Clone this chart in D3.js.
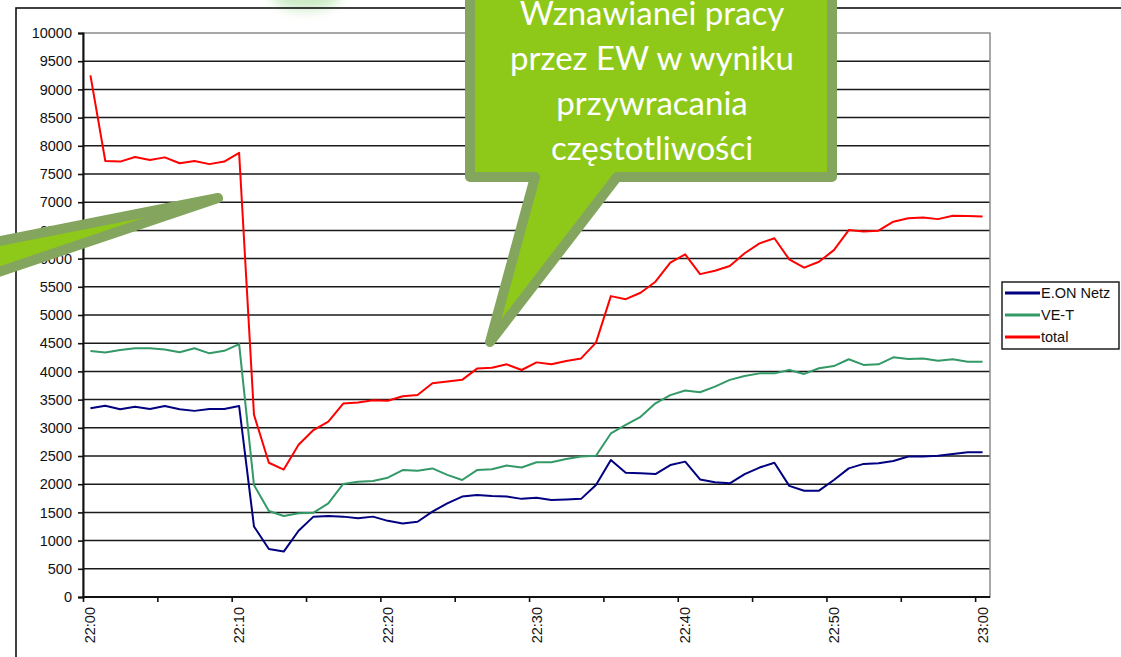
<!DOCTYPE html>
<html>
<head>
<meta charset="utf-8">
<script src="https://cdn.jsdelivr.net/npm/d3@7"></script>
<style>
  html, body { margin: 0; padding: 0; background: #fff; overflow: hidden; }
  svg { display: block; }
</style>
</head>
<body>
<svg id="chart" width="1121" height="657"></svg>
<script>
// One reading per minute, 22:00 – 23:00
const times = [
  "22:00","22:01","22:02","22:03","22:04","22:05","22:06","22:07","22:08","22:09",
  "22:10","22:11","22:12","22:13","22:14","22:15","22:16","22:17","22:18","22:19",
  "22:20","22:21","22:22","22:23","22:24","22:25","22:26","22:27","22:28","22:29",
  "22:30","22:31","22:32","22:33","22:34","22:35","22:36","22:37","22:38","22:39",
  "22:40","22:41","22:42","22:43","22:44","22:45","22:46","22:47","22:48","22:49",
  "22:50","22:51","22:52","22:53","22:54","22:55","22:56","22:57","22:58","22:59",
  "23:00"
];

const eonNetz = [
  3345, 3390, 3330, 3375, 3335, 3385, 3330, 3300, 3335, 3335,
  3385, 1250,  850,  805, 1175, 1425, 1435, 1425, 1395, 1425,
  1350, 1305, 1335, 1515, 1660, 1780, 1810, 1790, 1780, 1740,
  1760, 1720, 1730, 1740, 1985, 2430, 2205, 2195, 2180, 2340,
  2400, 2085, 2035, 2015, 2180, 2295, 2380, 1970, 1885, 1885,
  2075, 2280, 2360, 2370, 2410, 2490, 2490, 2505, 2535, 2565,
  2565
];

const veT = [
  4360, 4335, 4380, 4410, 4410, 4390, 4340, 4410, 4320, 4365,
  4485, 1985, 1525, 1435, 1485, 1495, 1660, 2005, 2045, 2055,
  2115, 2250, 2240, 2280, 2165, 2075, 2250, 2265, 2330, 2295,
  2390, 2390, 2445, 2490, 2505, 2900, 3050, 3195, 3435, 3580,
  3660, 3630, 3730, 3850, 3920, 3965, 3965, 4025, 3955, 4055,
  4095, 4215, 4115, 4125, 4250, 4220, 4230, 4190, 4215, 4170,
  4170
];

const total = [
  9250, 7730, 7720, 7800, 7750, 7795, 7690, 7730, 7675, 7720,
  7875, 3230, 2380, 2260, 2700, 2960, 3110, 3430, 3450, 3490,
  3480, 3560, 3580, 3790, 3820, 3850, 4050, 4065, 4125, 4025,
  4160, 4125, 4185, 4230, 4510, 5335, 5280, 5395, 5590, 5930,
  6075, 5725, 5785, 5870, 6095, 6270, 6360, 5985, 5840, 5945,
  6150, 6505, 6480, 6495, 6655, 6715, 6730, 6700, 6760, 6755,
  6745
];

const yTicks = [0, 500, 1000, 1500, 2000, 2500, 3000, 3500, 4000, 4500, 5000,
                5500, 6000, 6500, 7000, 7500, 8000, 8500, 9000, 9500, 10000];
const xTickIndex = [0, 5, 10, 15, 20, 25, 30, 35, 40, 45, 50, 55, 60];
const xLabelIndex = [0, 10, 20, 30, 40, 50, 60];

const seriesNames = ["E.ON Netz", "VE-T", "total"];
const seriesColors = ["#000080", "#339966", "#ff0000"];
const seriesData = [eonNetz, veT, total];

const calloutLines = ["Wznawianei pracy", "przez EW w wyniku", "przywracania", "częstotliwości"];

const axisFont = "'Liberation Sans', Arial, sans-serif";
const calloutFont = "Lato, 'Open Sans', sans-serif";

const svg = d3.select("#chart");

// soft green glow peeking in at the top edge
const defs = svg.append("defs");
defs.append("filter").attr("id", "glow").attr("x", "-50%").attr("y", "-50%")
  .attr("width", "200%").attr("height", "200%")
  .append("feGaussianBlur").attr("stdDeviation", 6);
svg.append("ellipse")
  .attr("cx", 306).attr("cy", -4).attr("rx", 34).attr("ry", 14)
  .attr("fill", "#a6dc9c").attr("opacity", 0.6).attr("filter", "url(#glow)");

// chart frame
svg.append("rect")
  .attr("x", 16).attr("y", 8).attr("width", 1200).attr("height", 700)
  .attr("fill", "none").attr("stroke", "#111").attr("stroke-width", 1.6);

const plot = { left: 83, right: 990, top: 33, bottom: 597 };

const x = d3.scaleLinear().domain([0, times.length]).range([plot.left, plot.right]);
const y = d3.scaleLinear().domain([0, 10000]).range([plot.bottom, plot.top]);

// horizontal gridlines
svg.append("g").selectAll("line")
  .data(yTicks.filter(v => v > 0 && v < 10000))
  .join("line")
  .attr("x1", plot.left).attr("x2", plot.right)
  .attr("y1", d => y(d)).attr("y2", d => y(d))
  .attr("stroke", "#1a1a1a").attr("stroke-width", 1.5);

// plot area border
svg.append("rect")
  .attr("x", plot.left).attr("y", plot.top)
  .attr("width", plot.right - plot.left).attr("height", plot.bottom - plot.top)
  .attr("fill", "none").attr("stroke", "#8c8c8c").attr("stroke-width", 1.5);

// y axis
const yAxis = svg.append("g")
  .attr("transform", `translate(${plot.left},0)`)
  .call(d3.axisLeft(y).tickValues(yTicks).tickSize(5).tickPadding(6).tickFormat(d3.format("d")));
yAxis.select(".domain").attr("stroke", "#111").attr("stroke-width", 2);
yAxis.selectAll(".tick line").attr("stroke", "#111").attr("stroke-width", 1.6);
yAxis.selectAll(".tick text")
  .style("font-family", axisFont)
  .style("font-size", "14.5px").attr("fill", "#111");

// x axis: ticks every 5 minutes on category boundaries
const xAxis = svg.append("g")
  .attr("transform", `translate(0,${plot.bottom})`)
  .call(d3.axisBottom(x).tickValues(xTickIndex).tickSize(5).tickFormat(""));
xAxis.select(".domain").attr("stroke", "#111").attr("stroke-width", 2)
  .attr("d", `M${plot.left},0H${plot.right}`);
xAxis.selectAll(".tick line").attr("stroke", "#111").attr("stroke-width", 1.6);

// rotated time labels, centred on their minute
svg.append("g").selectAll("text")
  .data(xLabelIndex)
  .join("text")
  .attr("transform", i => `translate(${x(i + 0.5) + 5},${plot.bottom + 10}) rotate(-90)`)
  .attr("text-anchor", "end")
  .style("font-family", axisFont)
  .style("font-size", "14.5px").attr("fill", "#111")
  .text(i => times[i]);

// series lines
const line = d3.line()
  .x((d, i) => x(i + 0.5))
  .y(d => y(d));

svg.append("g").selectAll("path")
  .data(seriesData)
  .join("path")
  .attr("d", d => line(d))
  .attr("fill", "none")
  .attr("stroke", (d, i) => seriesColors[i])
  .attr("stroke-width", 2)
  .attr("stroke-linejoin", "round");

// legend
const legend = svg.append("g").attr("transform", "translate(1002,282)");
legend.append("rect")
  .attr("width", 117).attr("height", 67)
  .attr("fill", "#fff").attr("stroke", "#111").attr("stroke-width", 1.4);
const items = legend.selectAll("g.item")
  .data(seriesNames)
  .join("g")
  .attr("class", "item")
  .attr("transform", (d, i) => `translate(0,${11 + i * 22})`);
items.append("line")
  .attr("x1", 3).attr("x2", 38).attr("y1", 0).attr("y2", 0)
  .attr("stroke", (d, i) => seriesColors[i]).attr("stroke-width", 3);
items.append("text")
  .attr("x", 39).attr("y", 5)
  .style("font-family", axisFont)
  .style("font-size", "14.5px").attr("fill", "#111")
  .text(d => d);

// callout pointing at the drop of the total curve
const leftPointer = [[-60, 252.8], [218, 198], [-60, 291.7]];
svg.append("path")
  .attr("d", d3.line()(leftPointer) + "Z")
  .attr("fill", "#8ec91a").attr("stroke", "#84a55e")
  .attr("stroke-width", 10).attr("stroke-linejoin", "round");

// speech bubble describing the recovery
const bubble = [
  [470, -40], [832, -40], [832, 177], [617, 177], [490, 342], [535, 177], [470, 177]
];
svg.append("path")
  .attr("d", d3.line()(bubble) + "Z")
  .attr("fill", "#8ec91a").attr("stroke", "#84a55e")
  .attr("stroke-width", 10).attr("stroke-linejoin", "round");

svg.append("g").selectAll("text")
  .data(calloutLines)
  .join("text")
  .attr("x", 652).attr("y", (d, i) => 25 + i * 45)
  .attr("text-anchor", "middle")
  .style("font-family", calloutFont)
  .style("font-size", "33px").attr("fill", "#fff")
  .text(d => d);
</script>
</body>
</html>
